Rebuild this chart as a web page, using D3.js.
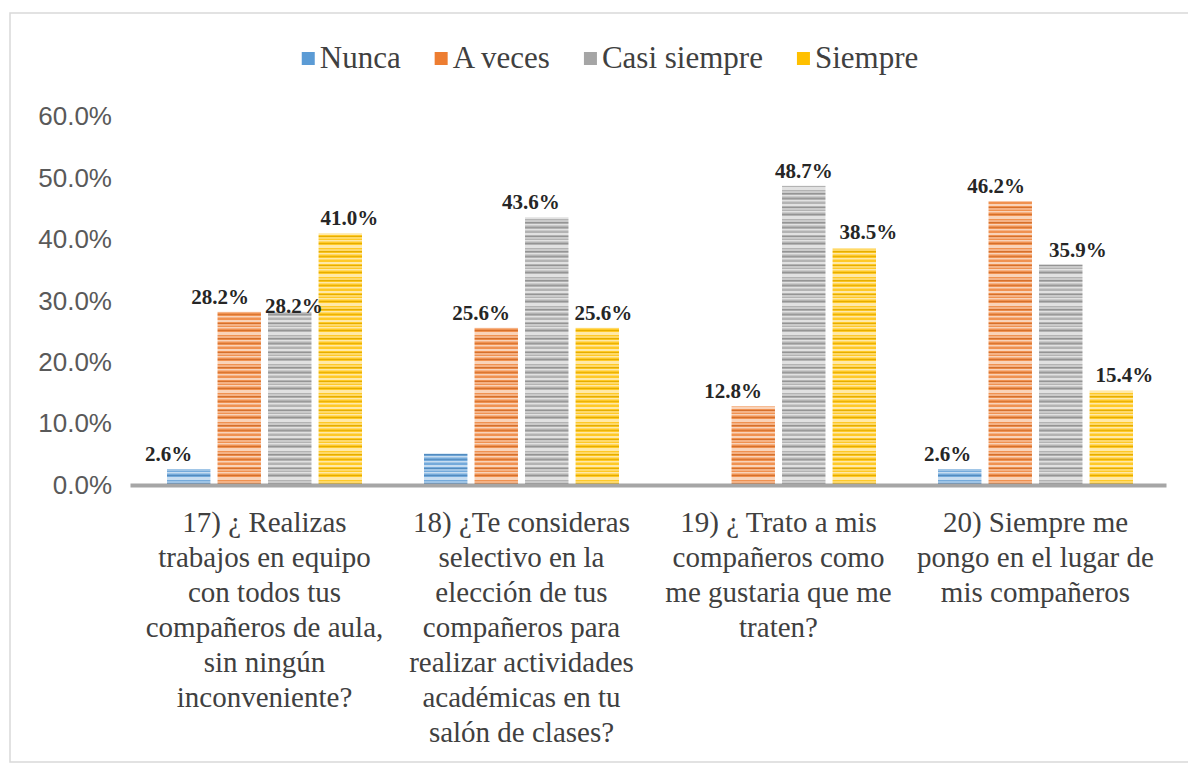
<!DOCTYPE html>
<html>
<head>
<meta charset="utf-8">
<script src="https://cdn.jsdelivr.net/npm/d3@7"></script>
<style>body{margin:0;background:#fff}</style>
</head>
<body>
<svg width="1188" height="766"></svg>
<script>
// categories, one line per wrapped row as in the picture
const categories = [
  ["17) ¿ Realizas", "trabajos en equipo", "con todos tus", "compañeros de aula,", "sin ningún", "inconveniente?"],
  ["18) ¿Te consideras", "selectivo en la", "elección de tus", "compañeros para", "realizar actividades", "académicas en tu", "salón de clases?"],
  ["19) ¿ Trato a mis", "compañeros como", "me gustaria que me", "traten?"],
  ["20) Siempre me", "pongo en el lugar de", "mis compañeros"]
];
const seriesNames = ["Nunca", "A veces", "Casi siempre", "Siempre"];
const nunca = [2.6, 5.1, 0, 2.6];
const aVeces = [28.2, 25.6, 12.8, 46.2];
const casiSiempre = [28.2, 43.6, 48.7, 35.9];
const siempre = [41.0, 25.6, 38.5, 15.4];
const yTicks = [0, 10, 20, 30, 40, 50, 60];

// labels the original chart leaves out: [series, category]
const hiddenLabels = [[0, 1], [0, 2]];

const colors = ["#5b9bd5", "#ed7d31", "#a5a5a5", "#ffc000"];
// hand placed label offsets in the original, [dx, dy] per series / category
const labelNudge = [
  [[-20, 0], [0, 0], [0, 0], [-12, 0]],
  [[-19, 0], [-15, 0], [-20, 0], [-14, 0]],
  [[4, 9], [-16, 0], [0, 0], [17, 0]],
  [[9, 0], [6, 0], [14, -2], [13, 0]]
];

const serif = "'Liberation Serif', 'Times New Roman', serif";
const svg = d3.select("svg");

// chart frame
svg.append("rect")
  .attr("x", 10).attr("y", 13)
  .attr("width", 1200).attr("height", 749)
  .attr("fill", "#fff")
  .attr("stroke", "#d9d9d9")
  .attr("stroke-width", 1.5);

// striped texture for the bars
const defs = svg.append("defs");
const lightLines = [[1, 2], [5.5, 1], [8, 1.5], [13, 3], [17.5, 1], [21, 1.5], [26, 1.5]];
const darkLines = [[4, 1], [11, 1], [19, 1.2], [24, 0.8]];
colors.forEach((c, i) => {
  const p = defs.append("pattern")
    .attr("id", "tex" + i)
    .attr("patternUnits", "userSpaceOnUse")
    .attr("width", 8)
    .attr("height", 29);
  p.append("rect").attr("width", 8).attr("height", 29)
    .attr("fill", d3.interpolateRgb(c, "#fff")(0.15));
  lightLines.forEach(([yy, h]) => p.append("rect")
    .attr("y", yy).attr("width", 8).attr("height", h)
    .attr("fill", "#fff").attr("opacity", 0.6));
  darkLines.forEach(([yy, h]) => p.append("rect")
    .attr("y", yy).attr("width", 8).attr("height", h)
    .attr("fill", d3.color(c).darker(0.3)));
});

const x = d3.scaleBand().domain(d3.range(categories.length)).range([136, 1164]);
const xs = d3.scaleBand().domain(d3.range(seriesNames.length)).range([31, 226]).paddingInner(0.14);
const y = d3.scaleLinear().domain([0, 60]).range([485, 116.5]);

// y axis
svg.append("g")
  .attr("transform", "translate(128,0)")
  .call(d3.axisLeft(y).tickValues(yTicks).tickSize(0).tickPadding(16)
    .tickFormat(d => d.toFixed(1) + "%"))
  .call(g => g.select(".domain").remove())
  .selectAll("text")
  .attr("font-family", "'Liberation Sans', Arial, sans-serif")
  .attr("font-size", 26)
  .attr("fill", "#595959");

// bars
const series = [nunca, aVeces, casiSiempre, siempre];
const cells = series.flatMap((vals, s) => vals.map((v, c) => ({ s, c, v })));

svg.append("g")
  .selectAll("rect")
  .data(cells)
  .join("rect")
  .attr("x", d => x(d.c) + xs(d.s))
  .attr("y", d => y(d.v))
  .attr("width", xs.bandwidth())
  .attr("height", d => y(0) - y(d.v))
  .attr("fill", d => `url(#tex${d.s})`);

// x axis line, a little wider than the plot band as in the original
svg.append("g")
  .attr("transform", "translate(0,485)")
  .call(d3.axisBottom(x.copy().range([130, 1166])).tickSize(0).tickFormat(""))
  .call(g => g.select(".domain").attr("stroke", "#a6a6a6").attr("stroke-width", 4));

// data labels
const isHidden = d => hiddenLabels.some(([s, c]) => s === d.s && c === d.c);
svg.append("g")
  .selectAll("text")
  .data(cells.filter(d => !isHidden(d)))
  .join("text")
  .attr("x", d => x(d.c) + xs(d.s) + xs.bandwidth() / 2 + labelNudge[d.s][d.c][0])
  .attr("y", d => y(d.v) - 8 + labelNudge[d.s][d.c][1])
  .attr("text-anchor", "middle")
  .attr("font-family", serif)
  .attr("font-weight", "bold")
  .attr("font-size", 21)
  .attr("fill", "#262626")
  .text(d => d.v.toFixed(1) + "%");

// category labels
const catText = svg.append("g")
  .selectAll("text")
  .data(categories)
  .join("text")
  .attr("x", (d, i) => x(i) + x.bandwidth() / 2)
  .attr("y", 532)
  .attr("text-anchor", "middle")
  .attr("font-family", serif)
  .attr("font-size", 29)
  .attr("fill", "#404040");

catText.selectAll("tspan")
  .data(d => d)
  .join("tspan")
  .attr("x", function() { return this.parentNode.getAttribute("x"); })
  .attr("dy", (d, i) => i ? 35 : 0)
  .text(d => d);

// legend
const legend = svg.append("g");
let lx = 0;
seriesNames.forEach((name, i) => {
  const item = legend.append("g").attr("transform", `translate(${lx},0)`);
  item.append("rect")
    .attr("y", -16).attr("width", 13).attr("height", 13)
    .attr("fill", colors[i]);
  const t = item.append("text")
    .attr("x", 18)
    .attr("font-family", serif)
    .attr("font-size", 31)
    .attr("fill", "#404040")
    .text(name);
  lx += 18 + t.node().getComputedTextLength() + 34;
});
lx -= 34;
legend.attr("transform", `translate(${610 - lx / 2},68)`);
</script>
</body>
</html>
